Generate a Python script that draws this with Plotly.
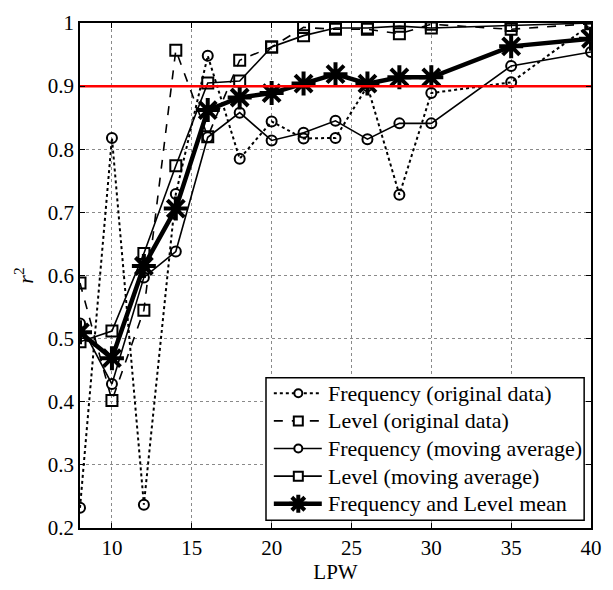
import plotly.graph_objects as go

# LPW values on the x axis
lpw = [8, 10, 12, 14, 16, 18, 20, 22, 24, 26, 28, 30, 35, 40]

# r^2 for each series
freq_orig = [0.232, 0.818, 0.237, 0.729, 0.948, 0.785, 0.844, 0.817, 0.818, 0.900, 0.728, 0.889, 0.906, 0.998]
level_orig = [0.588, 0.402, 0.545, 0.957, 0.820, 0.941, 0.962, 0.993, 0.990, 0.990, 0.983, 0.998, 0.990, 0.999]
freq_ma = [0.524, 0.428, 0.597, 0.638, 0.819, 0.858, 0.814, 0.826, 0.845, 0.816, 0.841, 0.841, 0.932, 0.954]
level_ma = [0.495, 0.512, 0.635, 0.774, 0.905, 0.908, 0.962, 0.980, 0.992, 0.992, 0.995, 0.992, 0.996, 1.000]
mean_fl = [0.510, 0.469, 0.615, 0.706, 0.862, 0.882, 0.889, 0.904, 0.919, 0.904, 0.914, 0.914, 0.963, 0.975]

threshold = 0.9

names = [
    "Frequency (original data)",
    "Level (original data)",
    "Frequency (moving average)",
    "Level (moving average)",
    "Frequency and Level mean",
]

FONT = "Liberation Serif, Times New Roman, serif"
W, H = 613, 590
ML, MR, MT, MB = 80, 11, 16, 53

# style per series: (values, dash, line width, marker kind)
styles = [
    (freq_orig, "dot", 2.0, "circle"),
    (level_orig, "dash", 1.6, "square"),
    (freq_ma, "solid", 1.6, "circle"),
    (level_ma, "solid", 1.6, "square"),
    (mean_fl, "solid", 4.5, "star"),
]
symbol_map = {"circle": "circle-open", "square": "square-open", "star": "asterisk-open"}
size_map = {"circle": 10, "square": 11, "star": 20}

fig = go.Figure()

for name, (vals, dash, lw, kind) in zip(names, styles):
    fig.add_trace(go.Scatter(
        x=lpw, y=vals, name=name, mode="lines+markers", showlegend=False,
        line=dict(color="black", width=lw, dash=dash),
        marker=dict(symbol=symbol_map[kind], size=size_map[kind], color="black",
                    line=dict(width=4 if kind == "star" else 2, color="black")),
    ))

# threshold line
fig.add_trace(go.Scatter(
    x=[lpw[0], lpw[-1]], y=[threshold, threshold], mode="lines",
    line=dict(color="#ff0000", width=2.5), showlegend=False, hoverinfo="skip",
))

axis_common = dict(
    showline=True, linecolor="black", linewidth=1.5, mirror="ticks",
    ticks="inside", ticklen=5, tickwidth=1, tickcolor="black",
    showgrid=True, gridcolor="#8a8a8a", gridwidth=1, griddash="dot",
    zeroline=False, tickfont=dict(family=FONT, size=21, color="black"),
)

fig.update_xaxes(
    range=[8, 40], tickvals=[10, 15, 20, 25, 30, 35, 40],
    title=dict(text="LPW", font=dict(family=FONT, size=21, color="black"), standoff=4),
    **axis_common,
)
fig.update_yaxes(
    range=[0.2, 1.0], tickvals=[0.2, 0.3, 0.4, 0.5, 0.6, 0.7, 0.8, 0.9, 1.0],
    ticktext=["0.2", "0.3", "0.4", "0.5", "0.6", "0.7", "0.8", "0.9", "1"],
    title=dict(text="<i>r</i><sup>2</sup>", font=dict(family=FONT, size=22, color="black"), standoff=8),
    **axis_common,
)

# ---- legend box drawn with shapes (pixel layout converted to paper units)
PW, PH = W - ML - MR, H - MT - MB


def px(xp):
    return (xp - ML) / PW


def py(yp):
    return (H - MB - yp) / PH


shapes = []
annotations = []
shapes.append(dict(type="rect", xref="paper", yref="paper", layer="above",
                   x0=px(270), x1=px(595), y0=py(529), y1=py(382),
                   fillcolor="white", line=dict(color="black", width=1.5)))

row_y = [398, 426.5, 455, 483.5, 512]
line_x0, line_x1, mark_x, text_x = 278, 327, 303, 331
for name, (vals, dash, lw, kind), ry in zip(names, styles, row_y):
    shapes.append(dict(type="line", xref="paper", yref="paper", layer="above",
                       x0=px(line_x0), x1=px(line_x1), y0=py(ry), y1=py(ry),
                       line=dict(color="black", width=lw, dash=dash)))
    common = dict(xref="paper", yref="paper", layer="above",
                  xsizemode="pixel", ysizemode="pixel",
                  xanchor=px(mark_x), yanchor=py(ry))
    if kind == "circle":
        shapes.append(dict(type="circle", x0=-4, x1=4, y0=-4, y1=4,
                           fillcolor="white", line=dict(color="black", width=2), **common))
    elif kind == "square":
        shapes.append(dict(type="rect", x0=-4.5, x1=4.5, y0=-4.5, y1=4.5,
                           fillcolor="white", line=dict(color="black", width=2), **common))
    else:
        star = "M-9,0 L9,0 M0,-9 L0,9 M-6.5,-6.5 L6.5,6.5 M-6.5,6.5 L6.5,-6.5"
        shapes.append(dict(type="path", path=star,
                           line=dict(color="black", width=4), **common))
    annotations.append(dict(xref="paper", yref="paper", x=px(text_x), y=py(ry),
                            xanchor="left", yanchor="middle", showarrow=False,
                            text=name, font=dict(family=FONT, size=22, color="black")))

fig.update_layout(
    width=W, height=H,
    margin=dict(l=ML, r=MR, t=MT, b=MB),
    paper_bgcolor="white", plot_bgcolor="white",
    font=dict(family=FONT, size=21, color="black"),
    showlegend=False,
    shapes=shapes,
    annotations=annotations,
)

fig.write_html("out.html")
